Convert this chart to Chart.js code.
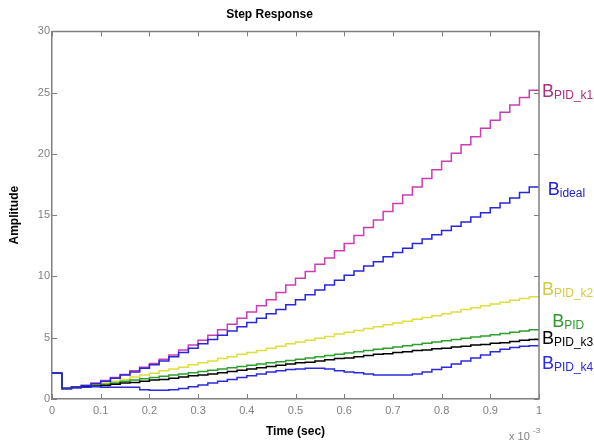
<!DOCTYPE html>
<html>
<head>
<meta charset="utf-8">
<script src="https://cdn.jsdelivr.net/npm/chart.js@4.4.0/dist/chart.umd.min.js"></script>
<style>
  html, body { margin: 0; padding: 0; background: #fff; }
  #wrap { width: 594px; height: 445px; }
</style>
</head>
<body>
<div id="wrap"><canvas id="chart" width="594" height="445"></canvas></div>
<script>
// --- DATA (time in units of 1e-3 s, one sample every 0.02, value held until next sample) ---
const TIME = [0, 0.02, 0.04, 0.06, 0.08, 0.10, 0.12, 0.14, 0.16, 0.18,
  0.20, 0.22, 0.24, 0.26, 0.28, 0.30, 0.32, 0.34, 0.36, 0.38,
  0.40, 0.42, 0.44, 0.46, 0.48, 0.50, 0.52, 0.54, 0.56, 0.58,
  0.60, 0.62, 0.64, 0.66, 0.68, 0.70, 0.72, 0.74, 0.76, 0.78,
  0.80, 0.82, 0.84, 0.86, 0.88, 0.90, 0.92, 0.94, 0.96, 0.98, 1.00];

const B_PID_K1 = [2.1, 0.85, 0.95, 1.1, 1.3, 1.5, 1.75, 2.0, 2.3, 2.6,
  2.9, 3.25, 3.6, 4.0, 4.4, 4.8, 5.2, 5.65, 6.1, 6.6,
  7.1, 7.6, 8.1, 8.7, 9.3, 9.85, 10.4, 11.0, 11.5, 12.1,
  12.7, 13.35, 14.0, 14.6, 15.3, 15.95, 16.65, 17.3, 18.0, 18.7,
  19.4, 20.05, 20.75, 21.4, 22.1, 22.75, 23.4, 24.0, 24.6, 25.2, 25.2];

const B_IDEAL = [2.1, 0.85, 0.95, 1.1, 1.25, 1.45, 1.7, 1.95, 2.2, 2.5,
  2.8, 3.1, 3.45, 3.8, 4.15, 4.5, 4.85, 5.2, 5.55, 5.9,
  6.25, 6.6, 6.95, 7.3, 7.7, 8.1, 8.5, 8.9, 9.3, 9.7,
  10.1, 10.45, 10.85, 11.2, 11.6, 11.95, 12.3, 12.7, 13.05, 13.4,
  13.75, 14.1, 14.45, 14.85, 15.2, 15.6, 16.0, 16.4, 16.85, 17.3, 17.3];

const B_PID_K2 = [2.1, 0.85, 0.95, 1.05, 1.2, 1.3, 1.45, 1.6, 1.8, 1.95,
  2.1, 2.3, 2.45, 2.6, 2.8, 2.95, 3.1, 3.3, 3.45, 3.65,
  3.8, 3.95, 4.15, 4.3, 4.5, 4.65, 4.8, 4.95, 5.1, 5.3,
  5.45, 5.6, 5.75, 5.9, 6.05, 6.2, 6.35, 6.5, 6.65, 6.8,
  6.95, 7.1, 7.3, 7.45, 7.6, 7.75, 7.9, 8.05, 8.2, 8.35, 8.35];

const B_PID = [2.1, 0.85, 0.95, 1.0, 1.1, 1.2, 1.3, 1.45, 1.55, 1.65,
  1.75, 1.85, 1.95, 2.05, 2.15, 2.25, 2.35, 2.45, 2.55, 2.65,
  2.75, 2.85, 2.95, 3.05, 3.15, 3.25, 3.35, 3.45, 3.55, 3.65,
  3.75, 3.85, 3.95, 4.05, 4.15, 4.25, 4.35, 4.45, 4.55, 4.65,
  4.75, 4.85, 4.95, 5.05, 5.15, 5.25, 5.35, 5.45, 5.55, 5.65, 5.65];

const B_PID_K3 = [2.1, 0.85, 0.95, 1.0, 1.05, 1.1, 1.2, 1.3, 1.35, 1.45,
  1.55, 1.6, 1.7, 1.8, 1.9, 1.95, 2.05, 2.15, 2.25, 2.35,
  2.45, 2.55, 2.65, 2.75, 2.85, 2.95, 3.0, 3.1, 3.2, 3.3,
  3.35, 3.45, 3.55, 3.65, 3.7, 3.8, 3.85, 3.95, 4.0, 4.1,
  4.15, 4.25, 4.3, 4.4, 4.45, 4.55, 4.6, 4.7, 4.8, 4.85, 4.85];

const B_PID_K4 = [2.1, 0.85, 0.9, 0.95, 1.0, 0.95, 0.95, 0.95, 0.95, 0.75,
  0.72, 0.72, 0.75, 0.85, 1.0, 1.15, 1.3, 1.45, 1.6, 1.75,
  1.9, 2.05, 2.2, 2.3, 2.4, 2.45, 2.5, 2.5, 2.45, 2.3,
  2.2, 2.15, 2.05, 1.95, 1.95, 1.95, 1.95, 2.05, 2.2, 2.4,
  2.6, 2.85, 3.1, 3.35, 3.6, 3.85, 4.05, 4.2, 4.3, 4.35, 4.35];

// label subscripts and where they sit (data coordinates, like MATLAB text())
const LABEL_SUBS = ['PID_k1', 'ideal', 'PID_k2', 'PID', 'PID_k3', 'PID_k4'];
const LABEL_X = [1.006, 1.018, 1.006, 1.027, 1.006, 1.006];
const LABEL_Y = [25.2, 17.2, 9.05, 6.4, 5.0, 3.0];

const X_TICKS = [0, 0.1, 0.2, 0.3, 0.4, 0.5, 0.6, 0.7, 0.8, 0.9, 1];
const Y_TICKS = [0, 5, 10, 15, 20, 25, 30];

// --- STYLE ---
const FONT = '"Liberation Sans", Arial, sans-serif';
const AXIS_GRAY = '#808080';
const LINE_COLORS = ['#cc3cb4', '#2626dc', '#dede3c', '#2ea02e', '#000000', '#2a2ae0'];
const LABEL_COLORS = ['#a8307c', '#2020d0', '#d4cc40', '#2e9a2e', '#000000', '#2a2ae0'];

Chart.defaults.font.family = FONT;

function points(values) {
  return TIME.map((t, i) => ({ x: t, y: values[i] }));
}

function makeSet(values, color) {
  return {
    data: points(values),
    borderColor: color,
    borderWidth: 1.5,
    pointRadius: 0,
    stepped: true,
    fill: false
  };
}

// Chart.js paints dataset 0 on top, so the blue curves come first
const datasets = [
  makeSet(B_PID_K4, LINE_COLORS[5]),
  makeSet(B_IDEAL, LINE_COLORS[1]),
  makeSet(B_PID_K3, LINE_COLORS[4]),
  makeSet(B_PID, LINE_COLORS[3]),
  makeSet(B_PID_K2, LINE_COLORS[2]),
  makeSet(B_PID_K1, LINE_COLORS[0])
];

// box, inward ticks, right-side labels and the x10^-3 multiplier
const matlabFrame = {
  id: 'matlabFrame',
  afterDraw(chart) {
    const ctx = chart.ctx;
    const { left, right, top, bottom } = chart.chartArea;
    const xs = chart.scales.x, ys = chart.scales.y;
    ctx.save();
    ctx.strokeStyle = AXIS_GRAY;
    ctx.lineWidth = 1.5;
    ctx.beginPath();
    ctx.moveTo(left, top); ctx.lineTo(right, top); ctx.lineTo(right, bottom);
    ctx.stroke();
    ctx.lineWidth = 1;
    ctx.beginPath();
    X_TICKS.forEach(v => {
      const px = Math.round(xs.getPixelForValue(v)) + 0.5;
      ctx.moveTo(px, bottom); ctx.lineTo(px, bottom - 5);
      ctx.moveTo(px, top); ctx.lineTo(px, top + 5);
    });
    Y_TICKS.forEach(v => {
      const py = Math.round(ys.getPixelForValue(v)) + 0.5;
      ctx.moveTo(left, py); ctx.lineTo(left + 5, py);
      ctx.moveTo(right, py); ctx.lineTo(right - 5, py);
    });
    ctx.stroke();

    // curve labels: big B with subscript
    ctx.textBaseline = 'alphabetic';
    ctx.textAlign = 'left';
    LABEL_SUBS.forEach((sub, i) => {
      const x = xs.getPixelForValue(LABEL_X[i]);
      const y = ys.getPixelForValue(LABEL_Y[i]) + 6.5;
      ctx.fillStyle = LABEL_COLORS[i];
      ctx.font = '18px ' + FONT;
      ctx.fillText('B', x, y);
      const w = ctx.measureText('B').width;
      ctx.font = '12px ' + FONT;
      ctx.fillText(sub, x + w, y + 2);
    });

    // exponent of the time axis
    ctx.fillStyle = AXIS_GRAY;
    ctx.font = '11px ' + FONT;
    ctx.fillText('x 10', 509, 440);
    ctx.font = '8px ' + FONT;
    ctx.fillText('-3', 533, 433);
    ctx.restore();
  }
};

new Chart(document.getElementById('chart'), {
  type: 'line',
  data: { datasets },
  options: {
    responsive: false,
    animation: false,
    devicePixelRatio: 1,
    layout: { padding: { left: 0, right: 55, top: 0, bottom: 0 } },
    plugins: {
      legend: { display: false },
      tooltip: { enabled: false },
      title: {
        display: true,
        text: 'Step Response',
        color: '#000',
        font: { size: 12, weight: 'bold' },
        padding: { top: 7, bottom: 10 }
      }
    },
    scales: {
      x: {
        type: 'linear',
        min: 0,
        max: 1,
        afterBuildTicks: s => { s.ticks = X_TICKS.map(v => ({ value: v })); },
        afterFit: s => { s.height = 46; },
        ticks: {
          color: AXIS_GRAY,
          font: { size: 11 },
          padding: 5,
          maxRotation: 0,
          callback: v => String(Math.round(v * 10) / 10)
        },
        grid: { display: false, drawTicks: false },
        border: { color: AXIS_GRAY, width: 1.5 },
        title: {
          display: true,
          text: 'Time (sec)',
          color: '#000',
          font: { size: 12, weight: 'bold' },
          padding: { top: 0, bottom: 6 }
        }
      },
      y: {
        type: 'linear',
        min: 0,
        max: 30,
        afterBuildTicks: s => { s.ticks = Y_TICKS.map(v => ({ value: v })); },
        afterFit: s => { s.width = 52; },
        ticks: { color: AXIS_GRAY, font: { size: 11 }, padding: 2 },
        grid: { display: false, drawTicks: false },
        border: { color: AXIS_GRAY, width: 1.5 },
        title: {
          display: true,
          text: 'Amplitude',
          color: '#000',
          font: { size: 12, weight: 'bold' },
          padding: { top: 7, bottom: 0 }
        }
      }
    }
  },
  plugins: [matlabFrame]
});
</script>
</body>
</html>
